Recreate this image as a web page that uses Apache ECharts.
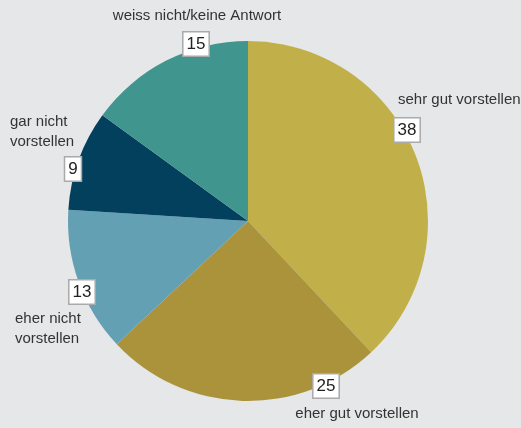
<!DOCTYPE html>
<html>
<head>
<meta charset="utf-8">
<script src="https://cdn.jsdelivr.net/npm/echarts@6/dist/echarts.min.js"></script>
<style>
  html, body { margin: 0; padding: 0; background: #e6e7e9; }
  #chart { width: 521px; height: 428px; }
</style>
</head>
<body>
<div id="chart"></div>
<script>
// answers, clockwise from 12 o'clock
const categories = [
  "sehr gut vorstellen",
  "eher gut vorstellen",
  "eher nicht\nvorstellen",
  "gar nicht\nvorstellen",
  "weiss nicht/keine Antwort",
];
const values = [38, 25, 13, 9, 15];

const colors = ["#c1b049", "#ab933c", "#64a0b4", "#02405e", "#41958f"];
const font = "'Liberation Sans', Arial, sans-serif";

// where the number boxes and the names sit
const boxPos = [[407, 130], [326, 386], [82, 292], [73, 169], [196, 44]];
const namePos = [
  { x: 398, y: 100, align: "left" },
  { x: 357, y: 414, align: "center" },
  { x: 15, y: 329, align: "left" },
  { x: 10, y: 132, align: "left" },
  { x: 197, y: 16, align: "center" },
];

const data = categories.map((name, i) => ({
  name,
  value: values[i],
  itemStyle: { color: colors[i] },
}));

const chart = echarts.init(document.getElementById("chart"));
chart.setOption({
  backgroundColor: "#e6e7e9",
  animation: false,
  series: [
    {
      type: "pie",
      center: [248, 221],
      radius: 180,
      startAngle: 90,
      avoidLabelOverlap: false,
      silent: true,
      data,
      labelLine: { show: false },
      label: {
        show: true,
        formatter: "{c}",
        fontFamily: font,
        fontSize: 17,
        color: "#222",
        backgroundColor: "#fff",
        borderColor: "#aaa",
        borderWidth: 1.5,
        padding: [4, 3, 2, 3],
      },
      labelLayout: (p) => ({
        x: boxPos[p.dataIndex][0],
        y: boxPos[p.dataIndex][1],
        align: "center",
        verticalAlign: "middle",
      }),
    },
    {
      type: "pie",
      center: [248, 221],
      radius: 180,
      startAngle: 90,
      avoidLabelOverlap: false,
      silent: true,
      z: 1,
      data: data.map((d) => ({ ...d, itemStyle: { color: "transparent" } })),
      labelLine: { show: false },
      label: {
        show: true,
        formatter: "{b}",
        fontFamily: font,
        fontSize: 15,
        lineHeight: 20,
        color: "#333",
      },
      labelLayout: (p) => ({
        x: namePos[p.dataIndex].x,
        y: namePos[p.dataIndex].y,
        align: namePos[p.dataIndex].align,
        verticalAlign: "middle",
      }),
    },
  ],
});
</script>
</body>
</html>
